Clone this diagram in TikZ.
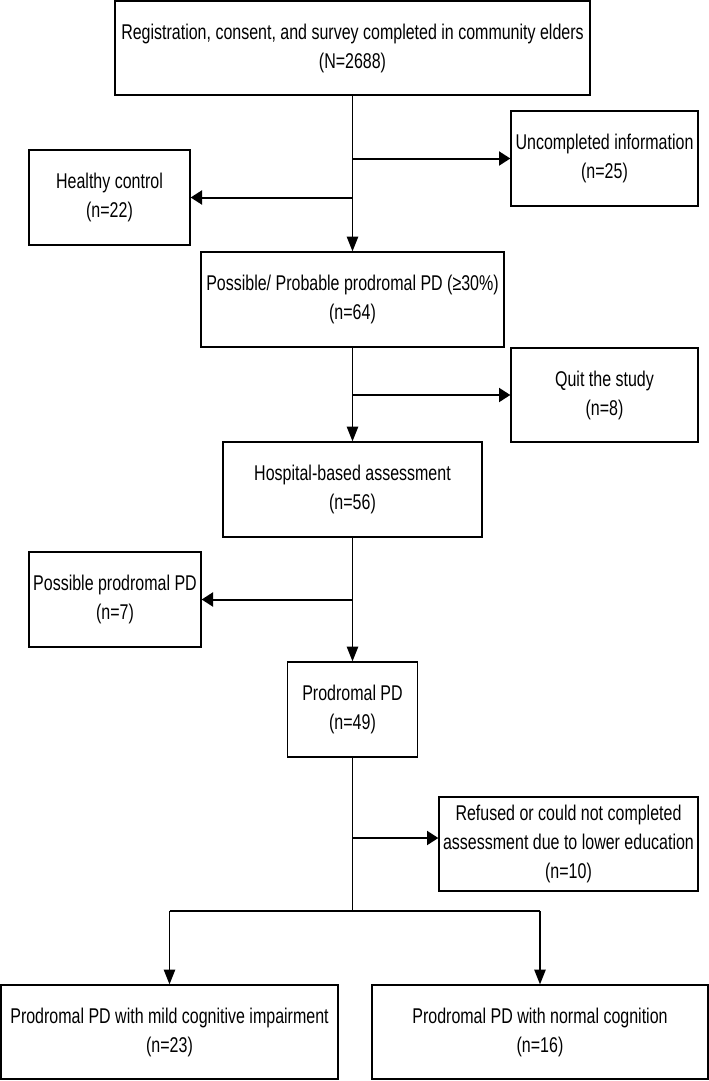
\documentclass[tikz,border=0pt]{standalone}
\usepackage{fontspec}
\setmainfont{Liberation Sans}[FakeStretch=0.75]
\usetikzlibrary{positioning,arrows.meta}

\begin{document}
\begin{tikzpicture}[x=0.75pt,y=-0.75pt,
    stage/.style={rectangle,draw,line width=1pt,align=center,inner sep=0pt,
        font=\fontsize{16}{21.75}\selectfont},
    spine/.style={line width=1pt},
    harr/.style={line width=1.5pt,-{Triangle[length=8.5pt,width=10.5pt]}},
    varr/.style={line width=1pt,-{Triangle[length=11pt,width=8.5pt]}}]
    \useasboundingbox (0,0) rectangle (709,1081);

    % Community survey
    \node[stage,minimum width={475*0.75pt},minimum height={94*0.75pt}] (reg) at (352.5,48) {
        Registration, consent, and survey completed in community elders\\
        (N=2688)};
    \node[stage,minimum width={187*0.75pt},minimum height={95*0.75pt}] (unc) at (604.5,158.5) {
        Uncompleted information\\(n=25)};
    \node[stage,minimum width={161*0.75pt},minimum height={95*0.75pt}] (hc) at (109.5,197.5) {
        Healthy control\\(n=22)};
    \node[stage,minimum width={303*0.75pt},minimum height={95*0.75pt}] (pp) at (352.5,299.5) {
        Possible/ Probable prodromal PD (≥30\%)\\(n=64)};

    % Hospital stage
    \node[stage,minimum width={187*0.75pt},minimum height={94*0.75pt}] (quit) at (604.5,395) {
        Quit the study\\(n=8)};
    \node[stage,minimum width={259*0.75pt},minimum height={95*0.75pt}] (hosp) at (352.5,489.5) {
        Hospital-based assessment\\(n=56)};
    \node[stage,minimum width={172*0.75pt},minimum height={95*0.75pt}] (ppd) at (115,599.5) {
        Possible prodromal PD\\(n=7)};
    \node[stage,minimum width={130*0.75pt},minimum height={95*0.75pt}] (pro) at (352.5,709.5) {
        Prodromal PD\\(n=49)};

    % Cognition
    \node[stage,minimum width={259*0.75pt},minimum height={94*0.75pt}] (ref) at (568.5,844) {
        Refused or could not completed\\assessment due to lower education\\(n=10)};
    \node[stage,minimum width={337*0.75pt},minimum height={94*0.75pt}] (mci) at (169.5,1032) {
        Prodromal PD with mild cognitive impairment\\(n=23)};
    \node[stage,minimum width={336*0.75pt},minimum height={94*0.75pt}] (norm) at (540,1032) {
        Prodromal PD with normal cognition\\(n=16)};

    % Junctions
    \coordinate (j1) at (reg.south |- unc.west);
    \coordinate (j2) at (reg.south |- hc.east);
    \coordinate (j3) at (pp.south |- quit.west);
    \coordinate (j4) at (hosp.south |- ppd.east);
    \coordinate (j5) at (352.5,838);
    \coordinate (split) at (352.5,911);

    % Arrows
    \draw[varr] (reg.south) -- (pp.north);
    \draw[harr] (j1) -- (unc.west);
    \draw[harr] (j2) -- (hc.east);
    \draw[varr] (pp.south) -- (hosp.north);
    \draw[harr] (j3) -- (quit.west);
    \draw[varr] (hosp.south) -- (pro.north);
    \draw[harr] (j4) -- (ppd.east);
    \draw[spine] (pro.south) -- (split);
    \draw[harr] (j5) -- (ref.west |- j5);
    \draw[line width=1.5pt] (mci.north |- split) -- (norm.north |- split);
    \draw[varr] (mci.north |- split) -- (mci.north);
    \draw[varr] (norm.north |- split) -- (norm.north);

\end{tikzpicture}
\end{document}
